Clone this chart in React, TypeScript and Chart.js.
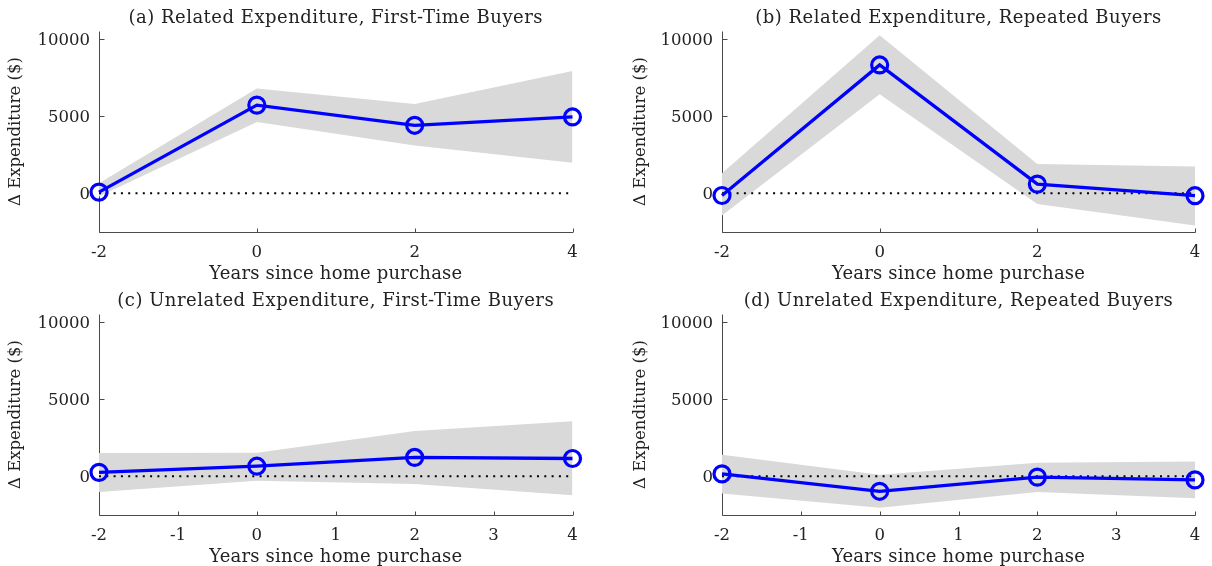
import React, { useEffect, useRef } from "react";
import { Chart, registerables } from "chart.js";

Chart.register(...registerables);

// ---------- data ----------
const years = [-2, 0, 2, 4];
const yTickValues = [0, 5000, 10000];
const yTickLabels = ["0", "5000", "10000"];
const xTicksSparse = [-2, 0, 2, 4];
const xTicksDense = [-2, -1, 0, 1, 2, 3, 4];

const titleA = "(a) Related Expenditure, First-Time Buyers";
const titleB = "(b) Related Expenditure, Repeated Buyers";
const titleC = "(c) Unrelated Expenditure, First-Time Buyers";
const titleD = "(d) Unrelated Expenditure, Repeated Buyers";
const xAxisLabel = "Years since home purchase";
const yAxisLabel = "Δ Expenditure ($)";

const relFirstEst = [70, 5720, 4410, 4950];
const relFirstUpper = [650, 6800, 5790, 7930];
const relFirstLower = [-220, 4620, 3090, 1980];

const relRepEst = [-150, 8330, 590, -160];
const relRepUpper = [1300, 10250, 1900, 1740];
const relRepLower = [-1450, 6420, -700, -2100];

const unrelFirstEst = [250, 650, 1220, 1150];
const unrelFirstUpper = [1500, 1520, 2930, 3570];
const unrelFirstLower = [-1020, -300, -510, -1240];

const unrelRepEst = [150, -980, -60, -240];
const unrelRepUpper = [1390, 90, 880, 960];
const unrelRepLower = [-1130, -2050, -1030, -1430];

// ---------- style ----------
const FONT = '16.5px "DejaVu Serif"';
const TITLE_FONT = '18px "DejaVu Serif"';
const TEXT = "#222222";
const AXIS = "#4a4a4a";
const BLUE = "#0000ff";
const BAND = "#d9d9d9";

type PanelProps = {
  title: string;
  est: number[];
  upper: number[];
  lower: number[];
  xTicks: number[];
  left: number;
  top: number;
  padLeft: number;
  padRight: number;
  ylabelX: number;
};

function Panel(p: PanelProps) {
  const ref = useRef<HTMLCanvasElement | null>(null);
  useEffect(() => {
    if (!ref.current) return;
    const toPts = (arr: number[]) => years.map((x, i) => ({ x, y: arr[i] }));

    const axesPlugin = {
      id: "matlabAxes",
      beforeDatasetsDraw(chart: any) {
        const { ctx, chartArea: ca, scales } = chart;
        const xs = scales.x;
        const ys = scales.y;
        ctx.save();
        const L = Math.round(ca.left) + 0.5;
        const B = Math.round(ca.bottom) + 0.5;
        ctx.strokeStyle = AXIS;
        ctx.lineWidth = 1;
        ctx.beginPath();
        ctx.moveTo(L, ca.top);
        ctx.lineTo(L, B);
        ctx.lineTo(ca.right + 0.5, B);
        ctx.stroke();
        // inward ticks
        ctx.beginPath();
        yTickValues.forEach((v) => {
          const py = Math.round(ys.getPixelForValue(v)) + 0.5;
          ctx.moveTo(L, py);
          ctx.lineTo(L + 5, py);
        });
        p.xTicks.forEach((v) => {
          const px = Math.round(xs.getPixelForValue(v)) + 0.5;
          ctx.moveTo(px, B);
          ctx.lineTo(px, B - 4);
        });
        ctx.stroke();
        // labels
        ctx.fillStyle = TEXT;
        ctx.font = FONT;
        ctx.textBaseline = "alphabetic";
        ctx.textAlign = "right";
        yTickValues.forEach((v, i) => {
          const py = ys.getPixelForValue(v);
          ctx.fillText(yTickLabels[i], ca.left - 9, py + 6);
        });
        ctx.textAlign = "center";
        p.xTicks.forEach((v) => {
          const px = xs.getPixelForValue(v);
          ctx.fillText(String(v), px, ca.bottom + 25);
        });
        const cx = (ca.left + ca.right) / 2;
        ctx.font = TITLE_FONT;
        (ctx as any).letterSpacing = "0.2px";
        ctx.fillText(xAxisLabel, cx, ca.bottom + 47.3);
        (ctx as any).letterSpacing = "0.5px";
        ctx.fillText(p.title, cx, 22.7);
        (ctx as any).letterSpacing = "0px";
        ctx.font = FONT;
        ctx.translate(p.ylabelX, (ca.top + ca.bottom) / 2);
        ctx.rotate(-Math.PI / 2);
        ctx.fillText(yAxisLabel, 0, 0);
        ctx.restore();
      },
    };

    const chart = new Chart(ref.current, {
      type: "line",
      data: {
        datasets: [
          {
            data: toPts(p.est),
            borderColor: BLUE,
            borderWidth: 3.3,
            pointRadius: 8,
            pointBorderWidth: 3.2,
            pointBorderColor: BLUE,
            pointBackgroundColor: "rgba(0,0,0,0)",
            fill: false,
            clip: false as any,
          },
          {
            data: [
              { x: years[0], y: 0 },
              { x: years[years.length - 1], y: 0 },
            ],
            borderColor: "#000000",
            borderWidth: 2,
            borderDash: [2, 5.3],
            pointRadius: 0,
            fill: false,
          },
          {
            data: toPts(p.upper),
            borderColor: "rgba(0,0,0,0)",
            borderWidth: 1,
            pointRadius: 0,
            fill: false,
          },
          {
            data: toPts(p.lower),
            borderColor: "rgba(0,0,0,0)",
            borderWidth: 1,
            pointRadius: 0,
            backgroundColor: BAND,
            fill: "-1",
          },
        ],
      },
      options: {
        animation: false,
        responsive: false,
        events: [],
        layout: {
          padding: { left: p.padLeft, right: p.padRight, top: 31.5, bottom: 51.3 },
        },
        elements: { line: { tension: 0 } },
        scales: {
          x: { type: "linear", min: -2, max: 4, display: false },
          y: { type: "linear", min: -2500, max: 10500, display: false },
        },
        plugins: {
          legend: { display: false },
          tooltip: { enabled: false },
          title: { display: false },
        },
      },
      plugins: [axesPlugin],
    } as any);
    return () => chart.destroy();
  }, []);

  return (
    <canvas
      ref={ref}
      width={606}
      height={283}
      style={{ position: "absolute", left: p.left, top: p.top, width: 606, height: 283, display: "block" }}
    />
  );
}

export default function App() {
  return (
    <div style={{ position: "absolute", left: 0, top: 0, width: 1212, height: 566, background: "#fff" }}>
      <Panel title={titleA} est={relFirstEst} upper={relFirstUpper} lower={relFirstLower}
        xTicks={xTicksSparse} left={0} top={0} padLeft={99} padRight={33.5} ylabelX={19.5} />
      <Panel title={titleB} est={relRepEst} upper={relRepUpper} lower={relRepLower}
        xTicks={xTicksSparse} left={606} top={0} padLeft={116} padRight={17} ylabelX={38.7} />
      <Panel title={titleC} est={unrelFirstEst} upper={unrelFirstUpper} lower={unrelFirstLower}
        xTicks={xTicksDense} left={0} top={283} padLeft={99} padRight={33.5} ylabelX={19.5} />
      <Panel title={titleD} est={unrelRepEst} upper={unrelRepUpper} lower={unrelRepLower}
        xTicks={xTicksDense} left={606} top={283} padLeft={116} padRight={17} ylabelX={38.7} />
    </div>
  );
}
